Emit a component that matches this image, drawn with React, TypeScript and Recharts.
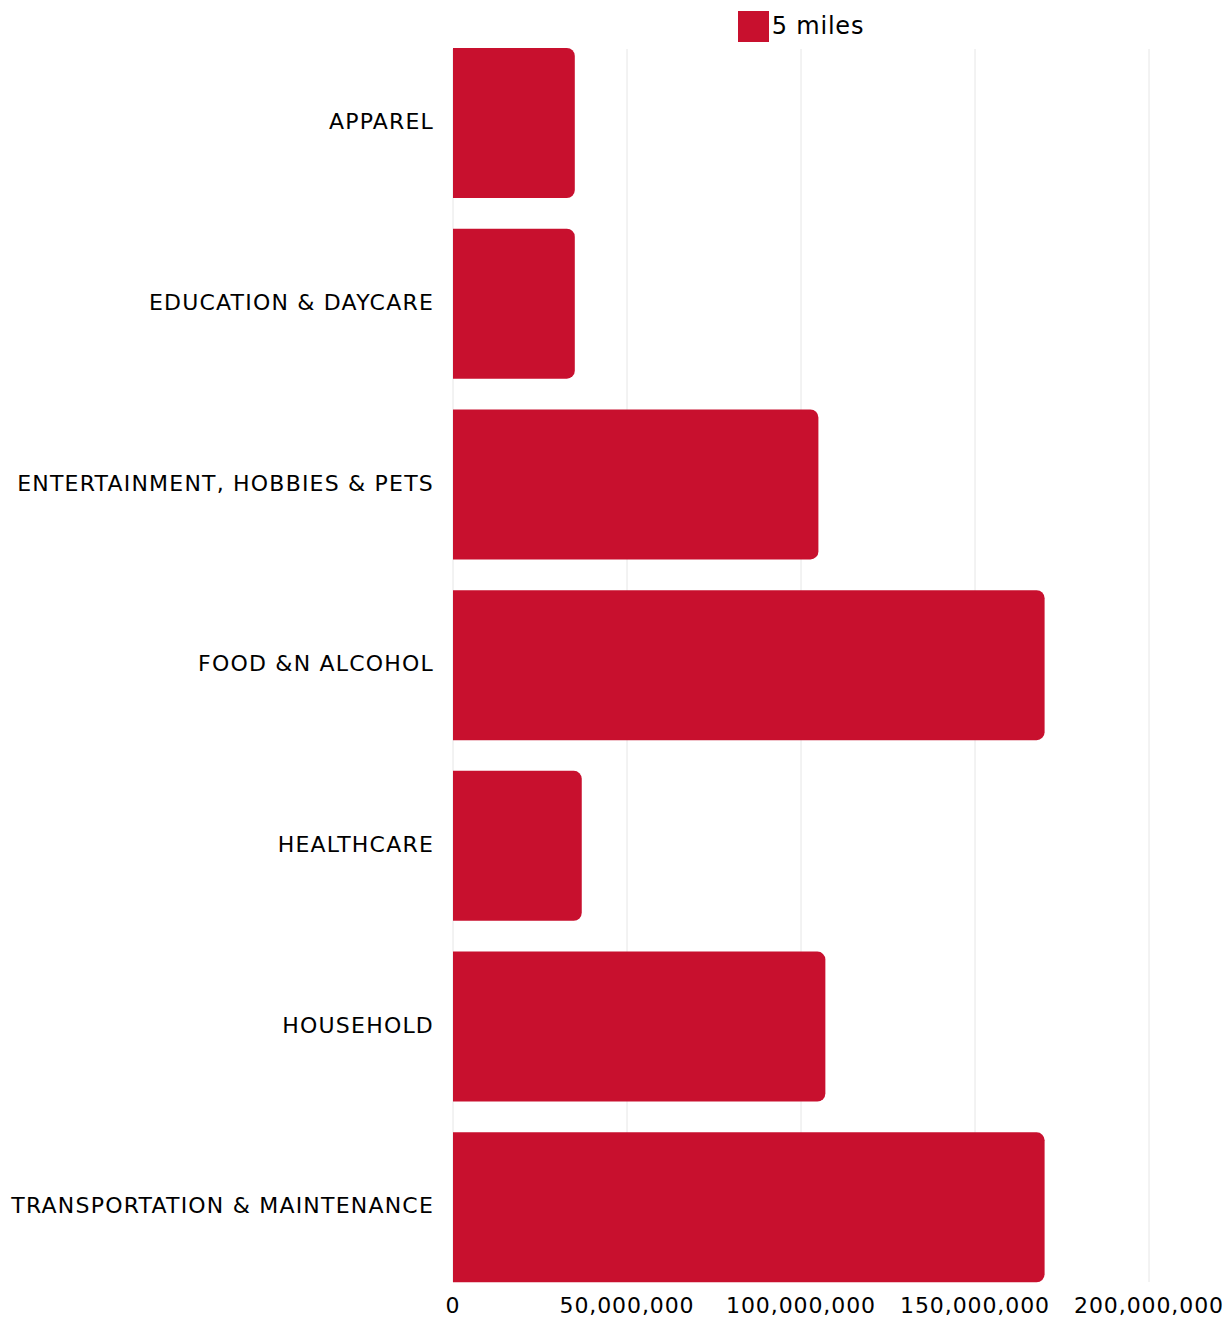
import React from "react";
import { BarChart, Bar, XAxis, YAxis, CartesianGrid, Legend } from "recharts";

const categories = [
  "APPAREL",
  "EDUCATION & DAYCARE",
  "ENTERTAINMENT, HOBBIES & PETS",
  "FOOD &N ALCOHOL",
  "HEALTHCARE",
  "HOUSEHOLD",
  "TRANSPORTATION & MAINTENANCE",
];
const fiveMiles = [35000000, 35000000, 105000000, 170000000, 37000000, 107000000, 170000000];
const xTicks = [0, 50000000, 100000000, 150000000, 200000000];
const seriesName = "5 miles";

const data = categories.map((c, i) => ({ category: c, v: fiveMiles[i] }));

const FONT = "'DejaVu Sans', sans-serif";
const RED = "#C8102E";

const fmt = (v: number) => v.toLocaleString("en-US");

const LegendContent = () => (
  <div style={{ display: "flex", justifyContent: "center", alignItems: "center", fontFamily: FONT }}>
    <div style={{ width: 31, height: 31, background: RED, marginRight: 3 }} />
    <span style={{ fontSize: 24, color: "#000", letterSpacing: 0.8, lineHeight: "31px" }}>{seriesName}</span>
  </div>
);

export default function App() {
  return (
    <div style={{ position: "absolute", left: 0, top: 0 }}>
      <BarChart
        width={1226}
        height={1323}
        data={data}
        layout="vertical"
        margin={{ top: 49, right: 77, bottom: 11, left: 0 }}
        barSize={150}
      >
        <CartesianGrid horizontal={false} stroke="#e6e6e6" />
        <XAxis
          type="number"
          domain={[0, 200000000]}
          ticks={xTicks}
          tickFormatter={fmt}
          axisLine={false}
          tickLine={false}
          tickMargin={9}
          tick={{ fontSize: 22, fill: "#000", fontFamily: FONT, letterSpacing: 0.9 }}
          interval={0}
        />
        <YAxis
          type="category"
          dataKey="category"
          width={453}
          axisLine={false}
          tickLine={false}
          tickMargin={13}
          padding={{ top: -16, bottom: -16 }}
          tick={{ fontSize: 22, fill: "#000", fontFamily: FONT, letterSpacing: 1.2, dy: -2 }}
          interval={0}
        />
        <Legend
          verticalAlign="top"
          content={<LegendContent />}
          wrapperStyle={{ position: "absolute", top: 11, left: 453, width: 696, height: 0, overflow: "visible" }}
        />
        <Bar dataKey="v" name={seriesName} fill={RED} radius={[0, 8, 8, 0]} isAnimationActive={false} />
      </BarChart>
    </div>
  );
}
